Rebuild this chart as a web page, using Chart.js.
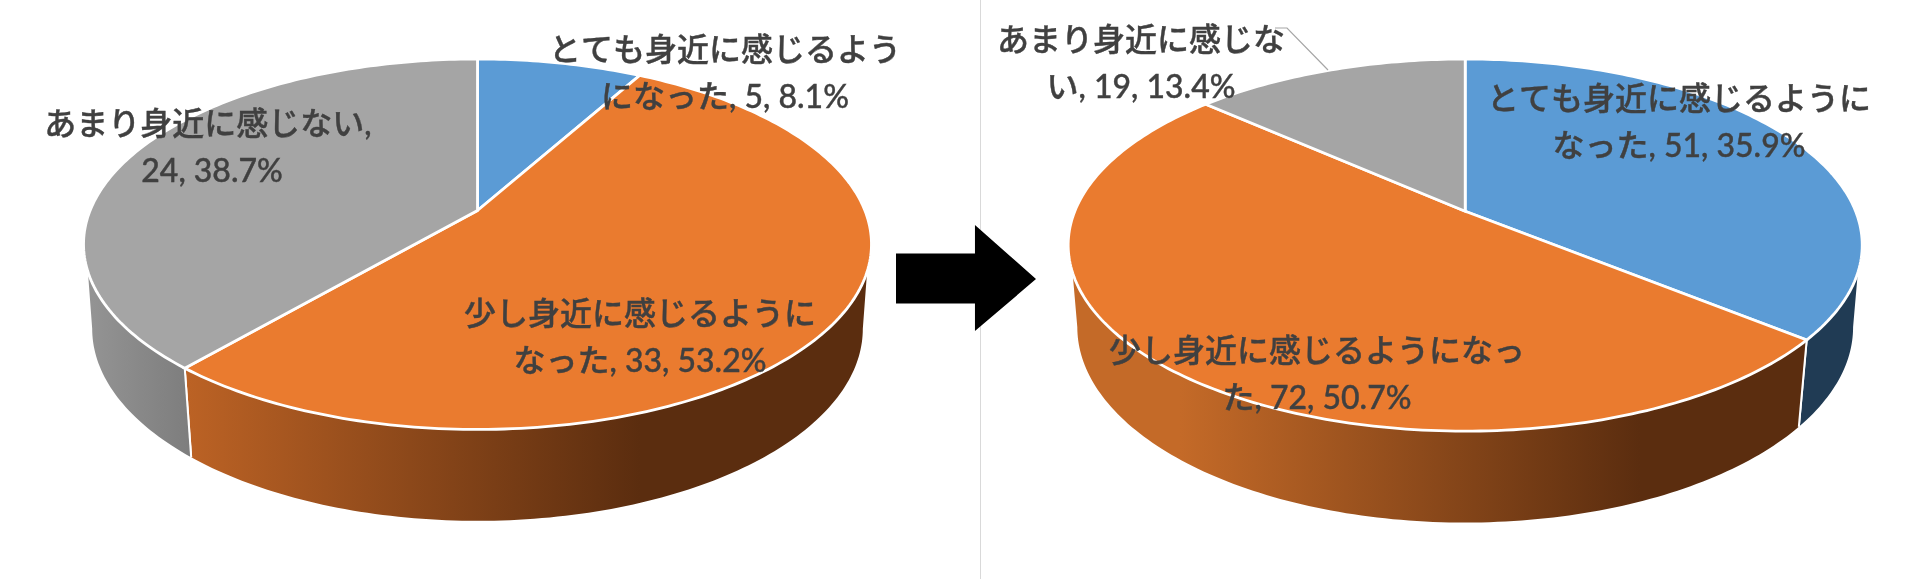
<!DOCTYPE html>
<html>
<head>
<meta charset="utf-8">
<title>身近に感じるか</title>
<script src="https://cdn.jsdelivr.net/npm/chart.js@4"></script>
<style>
  html, body { margin: 0; padding: 0; background: #fff; }
  body { position: relative; width: 1920px; height: 579px; overflow: hidden; }
  .box { position: absolute; top: 0; width: 960px; height: 579px; }
  .box canvas { filter: blur(0.5px); }
  #leftBox { left: 0; }
  #rightBox { left: 960px; }
  #divider { position: absolute; left: 980px; top: 0; width: 1px; height: 579px; background: #d9d9d9; }
  #arrow {
    position: absolute; left: 896px; top: 225px; width: 140px; height: 106px; background: #000;
    clip-path: polygon(0 27%, 56.4% 27%, 56.4% 0, 100% 51%, 56.4% 100%, 56.4% 74%, 0 74%);
  }
</style>
</head>
<body>
<div id="divider"></div>
<div id="arrow"></div>
<div class="box" id="leftBox"><canvas id="leftPie" width="960" height="579"></canvas></div>
<div class="box" id="rightBox"><canvas id="rightPie" width="960" height="579"></canvas></div>

<script>
const categories = ['とても身近に感じるようになった', '少し身近に感じるようになった', 'あまり身近に感じない'];
const beforeValues = [5, 33, 24];
const afterValues = [51, 72, 19];

// where each label wraps (characters on the first line)
const beforeWrap = [11, 11, 11];
const afterWrap = [12, 13, 9];

const topColors = ['#5b9bd5', '#ea7b2f', '#a5a5a5'];
const beforeWalls = [['#203b54', '#203b54'], ['#bd6325', '#5b2d0f'], ['#939393', '#7d7d7d']];
const afterWalls = [['#203b54', '#203b54'], ['#c46a28', '#5b2d0f'], ['#939393', '#7d7d7d']];

const beforeLabelPos = [[725, 51], [640, 315], [208, 125]];
const afterLabelPos = [[719, 100], [357, 352], [181, 41]];

const deg = Math.PI / 180;
const persp = 0.182;
const wallTop = [18.8 * deg, 161.2 * deg];
const wallBottom = [10.5 * deg, 169.5 * deg];

function topPoint(arc, cam, a) {
    const w = 1 - persp * Math.sin(a);
    return [arc.x + arc.outerRadius * Math.cos(a) / w,
            arc.y + arc.outerRadius * cam.squash * Math.sin(a) / w];
}

function bottomPoint(arc, cam, a) {
    const w = 1 - persp * Math.sin(a);
    return [arc.x + cam.shrink * arc.outerRadius * Math.cos(a) / w,
            arc.y + cam.drop + cam.bottomK * Math.sin(a) / w];
}

function traceArc(ctx, arc, cam, fn, from, to, first) {
    const steps = Math.max(2, Math.ceil(Math.abs(to - from) / deg));
    for (let i = 0; i <= steps; i++) {
        const p = fn(arc, cam, from + (to - from) * i / steps);
        if (first && i === 0) ctx.moveTo(p[0], p[1]);
        else ctx.lineTo(p[0], p[1]);
    }
}

// draws the pie's own arc elements as a tilted 3d disc
const pie3d = {
    id: 'pie3d',
    beforeDatasetDraw(chart, args, opts) {
        const ctx = chart.ctx;
        const arcs = chart.getDatasetMeta(args.index).data;

        arcs.forEach((arc, i) => {
            const t0 = Math.max(arc.startAngle, wallTop[0]);
            const t1 = Math.min(arc.endAngle, wallTop[1]);
            const b0 = Math.max(arc.startAngle, wallBottom[0]);
            const b1 = Math.min(arc.endAngle, wallBottom[1]);
            if (b1 <= b0) return;

            const left = bottomPoint(arc, opts, b1)[0];
            const right = bottomPoint(arc, opts, b0)[0];
            const grad = ctx.createLinearGradient(i === 1 ? opts.gradEnd - 460 : left, 0, i === 1 ? opts.gradEnd : right, 0);
            grad.addColorStop(0, opts.walls[i][0]);
            grad.addColorStop(1, opts.walls[i][1]);
            ctx.fillStyle = grad;
            ctx.beginPath();
            traceArc(ctx, arc, opts, topPoint, t0, Math.max(t0, t1), true);
            traceArc(ctx, arc, opts, bottomPoint, b1, b0, false);
            ctx.closePath();
            ctx.fill();

            ctx.strokeStyle = '#fff';
            ctx.lineWidth = 2;
            [arc.startAngle, arc.endAngle].forEach(a => {
                if (a > wallTop[0] && a < wallTop[1]) {
                    const p = topPoint(arc, opts, a);
                    const q = bottomPoint(arc, opts, a);
                    ctx.beginPath();
                    ctx.moveTo(p[0], p[1]);
                    ctx.lineTo(q[0], q[1]);
                    ctx.stroke();
                }
            });
        });

        arcs.forEach((arc, i) => {
            ctx.beginPath();
            ctx.moveTo(arc.x, arc.y);
            traceArc(ctx, arc, opts, topPoint, arc.startAngle, arc.endAngle, false);
            ctx.closePath();
            ctx.fillStyle = topColors[i];
            ctx.fill();
            ctx.strokeStyle = '#fff';
            ctx.lineWidth = 2.8;
            ctx.stroke();
        });
        return false;
    },
    afterDatasetsDraw(chart, args, opts) {
        const ctx = chart.ctx;
        const values = chart.data.datasets[0].data;
        const total = values.reduce((a, b) => a + b, 0);

        if (opts.leader) {
            ctx.beginPath();
            opts.leader.forEach((p, i) => i ? ctx.lineTo(p[0], p[1]) : ctx.moveTo(p[0], p[1]));
            ctx.strokeStyle = '#a6a6a6';
            ctx.lineWidth = 1.2;
            ctx.stroke();
        }

        ctx.font = '500 32px Lato, "Noto Sans CJK JP"';
        ctx.fillStyle = '#404040';
        ctx.strokeStyle = '#404040';
        ctx.lineWidth = 0.4;
        ctx.textAlign = 'center';
        ctx.textBaseline = 'middle';
        chart.data.labels.forEach((name, i) => {
            const text = name + ', ' + values[i] + ', ' + (values[i] / total * 100).toFixed(1) + '%';
            const cut = opts.wrap[i];
            const pos = opts.labelPos[i];
            [text.slice(0, cut), text.slice(cut)].forEach((line, n) => {
                ctx.fillText(line, pos[0], pos[1] + n * opts.lineGap);
                ctx.strokeText(line, pos[0], pos[1] + n * opts.lineGap);
            });
        });
    }
};

function makePie(id, values, cam, padding) {
    return new Chart(document.getElementById(id), {
        type: 'pie',
        data: {
            labels: categories,
            datasets: [{ data: values, backgroundColor: topColors }]
        },
        options: {
            responsive: false,
            animation: false,
            radius: cam.radius,
            layout: { padding: padding },
            plugins: { legend: { display: false }, tooltip: { enabled: false }, pie3d: cam }
        },
        plugins: [pie3d]
    });
}

makePie('leftPie', beforeValues, {
    radius: 387.4, squash: 0.4623, shrink: 0.978, drop: 83.3, bottomK: 185.7,
    walls: beforeWalls, gradEnd: 640, wrap: beforeWrap, labelPos: beforeLabelPos, lineGap: 47
}, { right: 5, bottom: 158 });

makePie('rightPie', afterValues, {
    radius: 390.4, squash: 0.4608, shrink: 0.977, drop: 80.3, bottomK: 189,
    walls: afterWalls, gradEnd: 680, wrap: afterWrap, labelPos: afterLabelPos, lineGap: 47,
    leader: [[315, 28], [327, 28], [368, 70]]
}, { left: 50.4, bottom: 156.6 });
</script>
</body>
</html>
